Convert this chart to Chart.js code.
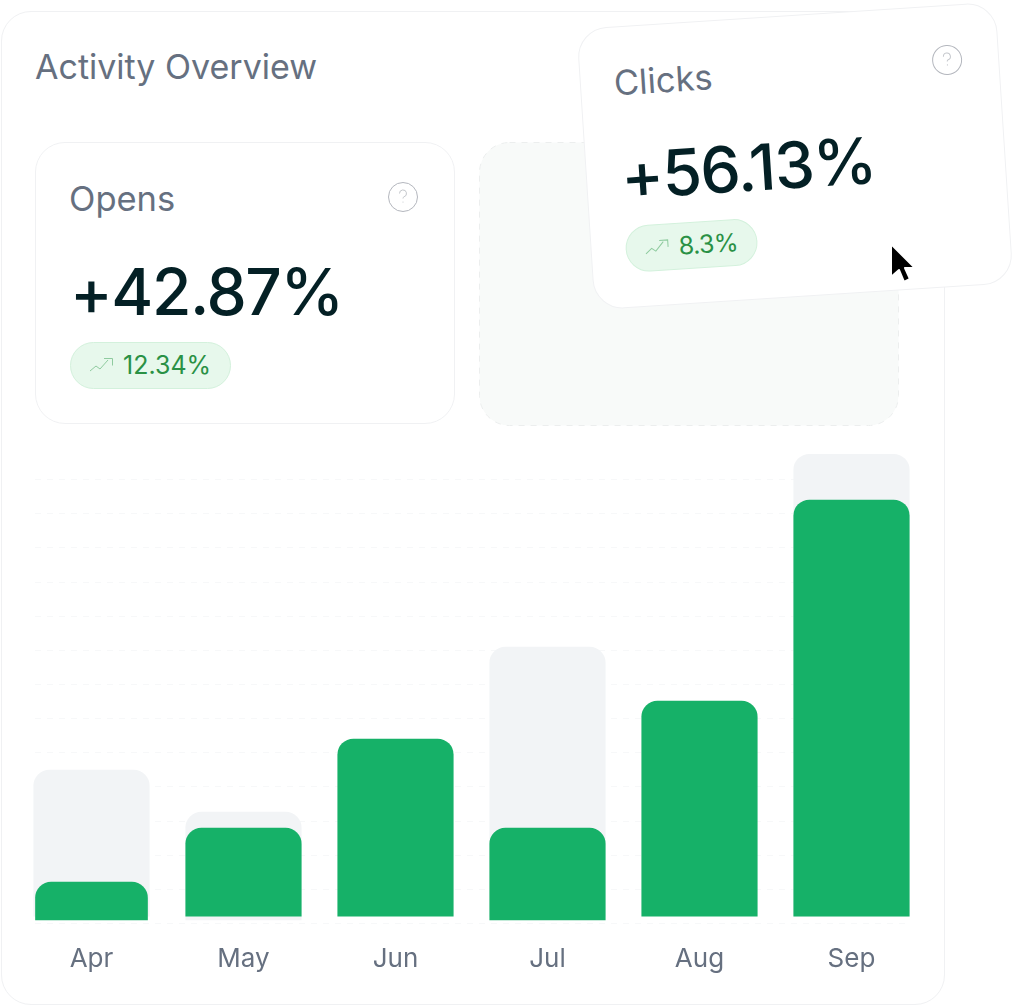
<!DOCTYPE html>
<html>
<head>
<meta charset="utf-8">
<title>Activity Overview</title>
<script src="https://cdn.jsdelivr.net/npm/chart.js@4/dist/chart.umd.min.js"></script>
<style>
  html, body { margin: 0; background: #fff; }
  body { position: relative; width: 1015px; height: 1007px; overflow: hidden; font-family: Inter, sans-serif; }
  #chart { position: absolute; left: 0; top: 0; }
  .outer { position: absolute; left: 1px; top: 11px; width: 942px; height: 992px; border: 1px solid #f0f1f3; border-radius: 30px; }
  .title { position: absolute; left: 35px; top: 46px; font-size: 34px; line-height: 42px; color: #667080; }
  .card { position: absolute; width: 418px; height: 280px; background: #fff; border: 1px solid #f0f1f3; border-radius: 30px; }
  #opens { left: 35px; top: 142px; }
  #clicks { left: 584.5px; top: 15px; transform: rotate(-3.7deg); }
  .ghost { position: absolute; left: 479px; top: 142px; }
  .label { position: absolute; left: 33px; top: 36px; font-size: 34.5px; line-height: 40px; color: #667080; }
  .value { position: absolute; left: 34px; top: 110px; font-size: 64px; line-height: 78px; font-weight: 500; letter-spacing: -1.4px; color: #042025; white-space: nowrap; }
  .badge { position: absolute; left: 34px; top: 199px; height: 45px; padding: 0 19px 2px 18px; box-sizing: border-box; height: 47px; display: flex; align-items: center; gap: 9px; background: #e7f8ec; border: 1px solid #d3f1dc; border-radius: 24px; font-size: 25px; color: #2a9145; }
  #clicks .badge span { letter-spacing: -.5px; }
  .help { position: absolute; left: 351px; top: 38px; }
  #cursor { position: absolute; left: 888px; top: 241px; }
</style>
</head>
<body>
<div class="outer"></div>
<div class="title">Activity Overview</div>
<canvas id="chart" width="1015" height="1007"></canvas>
<svg class="ghost" width="420" height="284"><rect x=".5" y=".5" width="419" height="283" rx="30" fill="#f8faf9" stroke="#eceeee" stroke-dasharray="6 6"/></svg>

<div class="card" id="opens">
  <div class="label">Opens</div>
  <svg class="help" width="32" height="32" viewBox="0 0 32 32"><circle cx="16" cy="16" r="14.5" fill="none" stroke="#b4b7be"/><path d="M12.5 12.5a3.5 3.5 0 1 1 4.5 3.3c-.7.3-1 .8-1 1.7" fill="none" stroke="#c4c7cc"/><circle cx="16" cy="21" r=".6" fill="#c4c7cc"/></svg>
  <div class="value">+42.87%</div>
  <div class="badge"><svg width="25" height="17" viewBox="0 0 25 17"><path d="M1 16l6-5 4 3 8-9M15 3.5h8.5v7" transform="translate(0 -1)" fill="none" stroke="#8fcb9f"/></svg><span>12.34%</span></div>
</div>

<div class="card" id="clicks">
  <div class="label">Clicks</div>
  <svg class="help" width="32" height="32" viewBox="0 0 32 32"><circle cx="16" cy="16" r="14.5" fill="none" stroke="#b4b7be"/><path d="M12.5 12.5a3.5 3.5 0 1 1 4.5 3.3c-.7.3-1 .8-1 1.7" fill="none" stroke="#c4c7cc"/><circle cx="16" cy="21" r=".6" fill="#c4c7cc"/></svg>
  <div class="value">+56.13%</div>
  <div class="badge"><svg width="25" height="17" viewBox="0 0 25 17"><path d="M1 16l6-5 4 3 8-9M15 3.5h8.5v7" transform="translate(0 -1)" fill="none" stroke="#8fcb9f"/></svg><span>8.3%</span></div>
</div>

<svg id="cursor" width="30" height="46" viewBox="0 0 30 46"><path d="M3 3v33l8-7 5 12 6-3-5-11h10z" fill="#000" stroke="#fff" stroke-width="2" stroke-linejoin="round"/></svg>

<script>
const months = ['Apr', 'May', 'Jun', 'Jul', 'Aug', 'Sep'];
// [bottom, top] of each bar, in grid units (one gridline = 10)
const greenBars = [null, [2, 27.8], [2, 53.9], [0.9, 27.8], [2, 65], [2, 123.9]];
const greenApr = [[0.9, 12], null, null, null, null, null];
const greyBars = [[2, 44.8], [0.9, 32.5], null, [2, 80.8], null, [2, 137.3]];

const green = '#16b168';
const grey = '#f2f4f6';
const corners = { topLeft: 16, topRight: 16, bottomLeft: 0, bottomRight: 0 };

// gridlines stop at the outer bar edges, not at the chart area edges
const shortGrid = {
  id: 'shortGrid',
  beforeDatasetsDraw(chart) {
    const { ctx, scales: { y } } = chart;
    ctx.save();
    ctx.strokeStyle = '#f7f8f9';
    ctx.lineWidth = 1;
    ctx.setLineDash([6, 6]);
    y.ticks.forEach(t => {
      if (t.value > 130) return;
      const py = Math.round(y.getPixelForValue(t.value)) + 0.5;
      ctx.beginPath();
      ctx.moveTo(35, py);
      ctx.lineTo(911, py);
      ctx.stroke();
    });
    ctx.restore();
  }
};

new Chart(document.getElementById('chart'), {
  type: 'bar',
  data: {
    labels: months,
    datasets: [
      { label: 'Current', data: greenBars, backgroundColor: green, borderRadius: corners, grouped: false, barThickness: 115.5 },
      { label: 'Current', data: greenApr, backgroundColor: green, borderRadius: corners, grouped: false, barThickness: 112 },
      { label: 'Previous', data: greyBars, backgroundColor: grey, borderRadius: corners, grouped: false, barThickness: 115.5 }
    ]
  },
  options: {
    responsive: false,
    animation: false,
    layout: { padding: { left: 15.5, right: 87.5, top: 445, bottom: 24 } },
    plugins: { legend: { display: false }, tooltip: { enabled: false } },
    scales: {
      x: {
        afterFit: s => { s.height = 60; },
        grid: { display: false },
        border: { display: false },
        ticks: { color: '#667080', padding: 13, font: { family: 'Inter', size: 26 } }
      },
      y: {
        display: false,
        min: 0,
        max: 140,
        ticks: { stepSize: 10 }
      }
    }
  },
  plugins: [shortGrid]
});
</script>
</body>
</html>
